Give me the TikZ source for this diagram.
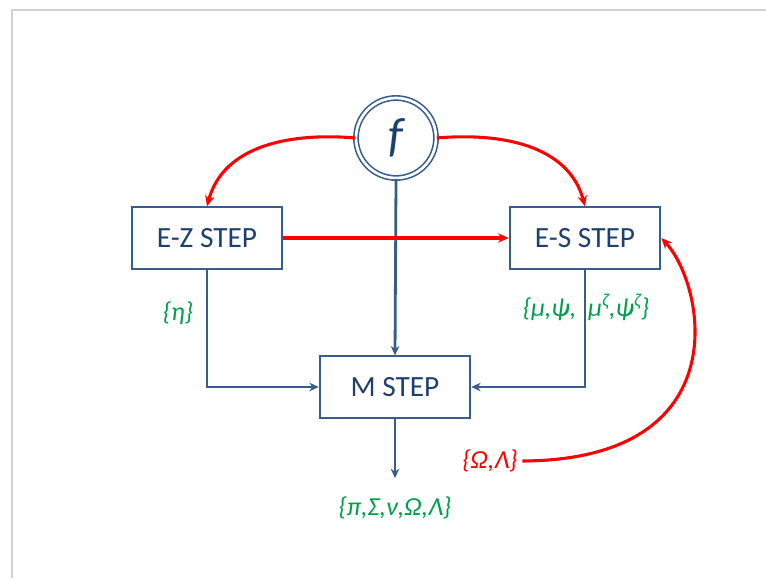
\documentclass[tikz,border=0pt]{standalone}
\usepackage{fontspec}
\setmainfont{Carlito}
\usetikzlibrary{arrows.meta}
\definecolor{boxblue}{HTML}{385D8A}
\definecolor{textblue}{HTML}{1F3F6E}
\definecolor{lblgreen}{HTML}{00A04A}
\definecolor{flowred}{HTML}{FF0000}

\begin{document}
\begin{tikzpicture}[x=0.75pt,y=-0.75pt,
  stepbox/.style={draw=boxblue,line width=1.5pt,minimum width=113pt,minimum height=46pt,
    text=textblue,font=\fontsize{22}{26}\selectfont},
  bluearrow/.style={draw=boxblue,line width=2.1pt,-{Stealth[length=7pt,width=6.5pt]}},
  redarrow/.style={draw=flowred,line width=2.3pt,-{Stealth[length=8pt,width=7pt]}},
  greenlbl/.style={text=lblgreen,font=\fontsize{19.5}{23}\selectfont\itshape}]
  \useasboundingbox (0,0) rectangle (766,578);
  \draw[black!18,line width=1pt] (12,578) -- (12,10) -- (766,10);

  % nodes
  \node[circle,draw=boxblue,double,double distance=2pt,line width=1.2pt,minimum size=60pt,
    text=textblue,font=\fontsize{36}{40}\selectfont\itshape] (f) at (396,138) {f};
  \node[stepbox] (ez) at (207,238) {E-Z STEP};
  \node[stepbox] (es) at (585,238) {E-S STEP};
  \node[stepbox] (m) at (395,387) {M STEP};

  % labels
  \node[greenlbl] (eta) at (178,313) {\{η\}};
  \node[greenlbl] (mupsi) at (586,307) {\{μ,ψ,~~μ\textsuperscript{ζ},ψ\textsuperscript{ζ}\}};
  \node[greenlbl,text=flowred] (omega) at (490,461) {\{Ω,Λ\}};
  \node[greenlbl] (params) at (395,508) {\{π,Σ,ν,Ω,Λ\}};
  \coordinate (mout) at (395,478);

  % blue flow
  \draw[bluearrow] (f.south) -- (m.north);
  \draw[bluearrow] (ez.south) |- (m.west);
  \draw[bluearrow] (es.south) |- (m.east);
  \draw[bluearrow] (m.south) -- (mout);

  % red flow
  \draw[redarrow] (ez.east) -- (es.west);
  \draw[redarrow] (f.west) to[out=175,in=75] (ez.north);
  \draw[redarrow] (f.east) to[out=5,in=105] (es.north);
  \draw[redarrow] (omega.east) .. controls (740,460) and (705,285) .. (es.east);
\end{tikzpicture}
\end{document}
